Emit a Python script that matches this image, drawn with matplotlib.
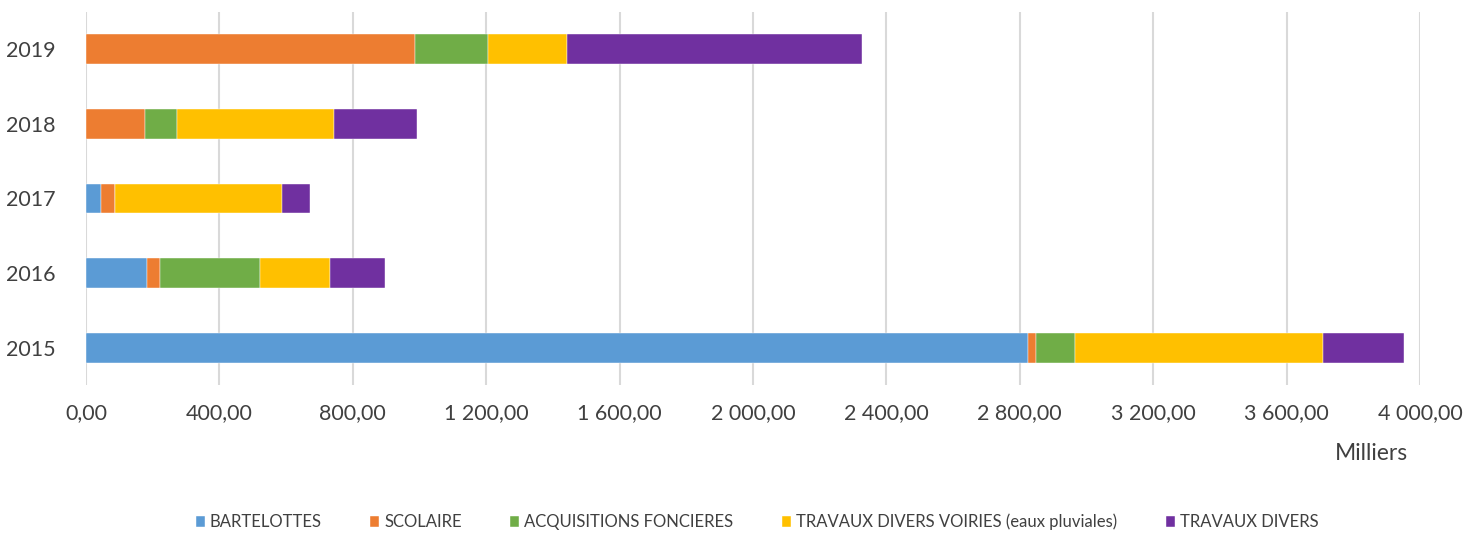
import numpy as np
import matplotlib
matplotlib.use('Agg')
import matplotlib.pyplot as plt
from matplotlib.ticker import FuncFormatter

years = ['2015', '2016', '2017', '2018', '2019']
series_names = ['BARTELOTTES', 'SCOLAIRE', 'ACQUISITIONS FONCIERES',
                'TRAVAUX DIVERS VOIRIES (eaux pluviales)', 'TRAVAUX DIVERS']
bartelottes = [2826, 184, 46, 0, 0]
scolaire = [22, 39, 41, 176, 986]
acquisitions = [119, 300, 0, 96, 219]
voiries = [741, 209, 501, 472, 238]
divers = [245, 166, 85, 248, 884]
colors = ['#5B9BD5', '#ED7D31', '#70AD47', '#FFC000', '#7030A0']

plt.rcParams['font.family'] = ['Lato', 'DejaVu Sans']


def fmt(v, pos):
    s = '{:,.2f}'.format(v)
    return s.replace(',', ' ').replace('.', ',')


fig = plt.figure(figsize=(14.65, 5.35), dpi=100)
ax = fig.add_axes([86 / 1465, 1 - 385 / 535, (1420 - 86) / 1465, (385 - 12) / 535])

y = np.arange(len(years))
left = np.zeros(len(years))
for name, vals, c in zip(series_names, [bartelottes, scolaire, acquisitions, voiries, divers], colors):
    ax.barh(y, vals, left=left, height=0.4, color=c, label=name, zorder=3,
            edgecolor='white', linewidth=0.3)
    left += np.array(vals)

ax.set_xlim(0, 4000)
ax.set_ylim(-0.5, 4.5)
ax.set_xticks(np.arange(0, 4001, 400))
ax.xaxis.set_major_formatter(FuncFormatter(fmt))
ax.set_yticks(y)
ax.set_yticklabels(years)
ax.grid(axis='x', color='#d9d9d9', linewidth=1.5, zorder=0)
for s in ax.spines.values():
    s.set_visible(False)
ax.tick_params(axis='both', length=0, labelsize=15.5, colors='#404040')
ax.tick_params(axis='x', pad=13)
ax.tick_params(axis='y', pad=22)

fig.text(1371 / 1465, 1 - 454 / 535, 'Milliers', ha='center', va='center',
         fontsize=16.5, color='#404040')

handles, labels = ax.get_legend_handles_labels()
fig.legend(handles, labels, loc='center', bbox_to_anchor=(757 / 1465, 1 - 522 / 535),
           ncol=5, frameon=False, fontsize=12, handlelength=0.55, handleheight=0.6,
           handletextpad=0.3, columnspacing=2.9, labelcolor='#404040')

fig.savefig('out.png', dpi=100)
